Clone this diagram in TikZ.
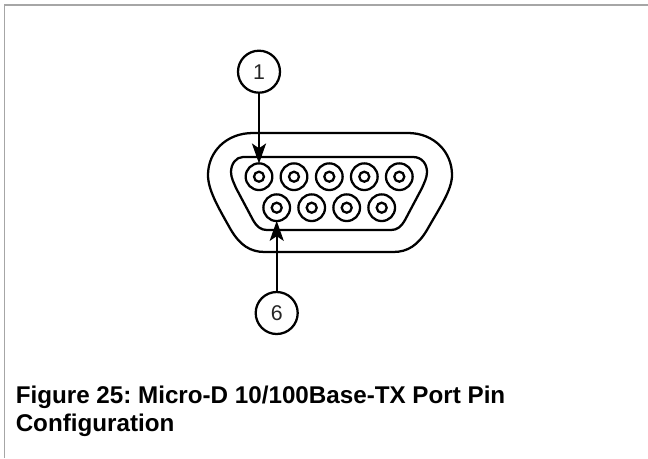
\documentclass[tikz,border=0pt]{standalone}
\usepackage{fontspec}
\setmainfont{Liberation Sans}
\usetikzlibrary{arrows.meta}

\tikzset{
  callout/.style={circle, draw, line width=1.7pt, minimum size=31.5pt, inner sep=0pt, font=\fontsize{16}{18}\selectfont, text=black!85},
  pinring/.style={circle, draw, line width=1.7pt, minimum size=20pt, inner sep=0pt},
  pinhole/.style={circle, draw, line width=1.7pt, minimum size=7.5pt, inner sep=0pt},
  pointer/.style={line width=1.7pt, -{Stealth[length=15pt, width=10.5pt, inset=3.5pt]}, shorten >=-1pt},
  shell/.style={line width=1.7pt, line join=round},
}

\begin{document}
\begin{tikzpicture}[x=0.75pt, y=-0.75pt]
  \useasboundingbox (0,0) rectangle (648,458);

  \coordinate (fa) at (4.3,458);
  \coordinate (fb) at (4.3,5);
  \coordinate (fc) at (648,5);
  \draw[black!35, line width=1pt] (fa)--(fb)--(fc);

  % outer shell
  \draw[shell] (253,133) -- (408,133)
    .. controls (434,133) and (452,152) .. (452,175)
    .. controls (452,190) and (440,207) .. (427,230)
    .. controls (418,245) and (408,252) .. (393,252)
    -- (265,252)
    .. controls (250,252) and (240,245) .. (231,230)
    .. controls (218,207) and (208,190) .. (208,175)
    .. controls (208,152) and (226,133) .. (253,133) -- cycle;

  % inner shell
  \draw[shell] (243,157) -- (413,157)
    .. controls (422,157) and (427,164) .. (427,172)
    .. controls (427,178) and (424,183) .. (422,188)
    -- (405,220)
    .. controls (401,227) and (397,230) .. (391,230)
    -- (267,230)
    .. controls (261,230) and (257,227) .. (253,220)
    -- (236,188)
    .. controls (234,183) and (231,178) .. (231,172)
    .. controls (231,164) and (236,157) .. (243,157) -- cycle;

  \node[pinring] (a) at (259,176.7) {};
  \node[pinring] (b) at (294,176.7) {};
  \node[pinring] (c) at (329.3,176.7) {};
  \node[pinring] (d) at (364.3,176.7) {};
  \node[pinring] (e) at (399.3,176.7) {};
  \node[pinring] (f) at (276.7,207.7) {};
  \node[pinring] (g) at (311.7,207.7) {};
  \node[pinring] (h) at (346.7,207.7) {};
  \node[pinring] (i) at (381.7,207.7) {};

  \node[pinhole] (ah) at (a) {};
  \node[pinhole] (bh) at (b) {};
  \node[pinhole] (ch) at (c) {};
  \node[pinhole] (dh) at (d) {};
  \node[pinhole] (eh) at (e) {};
  \node[pinhole] (fh) at (f) {};
  \node[pinhole] (gh) at (g) {};
  \node[pinhole] (hh) at (h) {};
  \node[pinhole] (ih) at (i) {};

  \node[callout] (one) at (259,71.7) {1};
  \node[callout] (six) at (276.7,313) {6};

  \draw[pointer] (one)--(a);
  \draw[pointer] (six)--(f);

  \node[anchor=north west, align=left, inner sep=0pt, font=\fontsize{18.15}{21}\selectfont\bfseries\frenchspacing] (title) at (15.5,386) {Figure 25: Micro-D 10/100Base-TX Port Pin\\Configuration};
\end{tikzpicture}
\end{document}
